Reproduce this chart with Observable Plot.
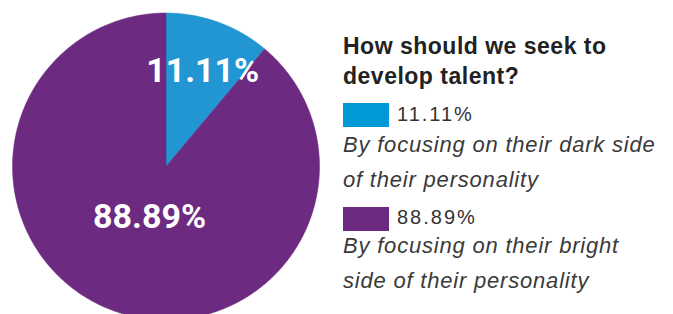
<!DOCTYPE html>
<html>
<head>
<meta charset="utf-8">
<script src="https://cdn.jsdelivr.net/npm/d3@7"></script>
<script src="https://cdn.jsdelivr.net/npm/@observablehq/plot@0.6"></script>
<style>
  html, body { margin: 0; padding: 0; background: #fff; }
  #wrap { position: relative; width: 673px; height: 314px; overflow: hidden; }
  #chart, #legend { position: absolute; left: 0; top: 0; }
</style>
</head>
<body>
<div id="wrap">
  <div id="chart"></div>
  <svg id="legend" width="673" height="314"></svg>
</div>
<script>
const titleLines = ["How should we seek to", "develop talent?"];
const categories = ["By focusing on their dark side of their personality", "By focusing on their bright side of their personality"];
const categoryLines = [["By focusing on their dark side", "of their personality"], ["By focusing on their bright", "side of their personality"]];
const values = [11.11, 88.89];
const valueLabels = ["11.11%", "88.89%"];
const pieColors = ["#2196d3", "#6d2a81"];
const swatchColors = ["#0099d8", "#6d2a81"];
const labelRadius = [0.66, 0.35];

// Build slice polygons from the data (clockwise from 12 o'clock)
const total = d3.sum(values);
const slices = [];
const labels = [];
let acc = 0;
values.forEach((v, i) => {
  const a0 = acc / total * 2 * Math.PI;
  acc += v;
  const a1 = acc / total * 2 * Math.PI;
  const steps = Math.max(2, Math.ceil((a1 - a0) / (Math.PI / 360)));
  slices.push({key: categories[i], x: 0, y: 0});
  for (let s = 0; s <= steps; s++) {
    const a = a0 + (a1 - a0) * s / steps;
    slices.push({key: categories[i], x: Math.sin(a), y: Math.cos(a)});
  }
  slices.push({key: categories[i], x: 0, y: 0});
  const am = (a0 + a1) / 2;
  labels.push({text: valueLabels[i], x: labelRadius[i] * Math.sin(am), y: labelRadius[i] * Math.cos(am)});
});

const plot = Plot.plot({
  width: 673,
  height: 314,
  margin: 0,
  style: {background: "transparent", overflow: "visible"},
  x: {domain: [-1, 1], range: [12, 319], axis: null},
  y: {domain: [-1, 1], range: [319.5, 12.5], axis: null},
  color: {domain: categories, range: pieColors},
  marks: [
    Plot.line(slices, {x: "x", y: "y", z: "key", fill: "key", stroke: "key", strokeWidth: 0.5, curve: "linear"}),
    Plot.text(labels, {x: "x", y: "y", text: "text", fill: "white", fontSize: 34, fontWeight: "bold", fontFamily: "Roboto, sans-serif", dx: 2, dy: 0})
  ]
});
document.getElementById("chart").appendChild(plot);

// Legend (layout)
const lg = d3.select("#legend");
const L = {x: 343, titleY: [54, 84], swTop: [103, 207], swW: 46, swH: 24, numX: 397, numY: [121, 224], descY: [[152, 187], [253, 288]]};
lg.selectAll("text.title").data(titleLines).join("text")
  .attr("x", L.x).attr("y", (d, i) => L.titleY[i])
  .attr("font-family", "'Liberation Sans', Arial, sans-serif").attr("font-weight", "bold")
  .attr("font-size", 23).attr("letter-spacing", 0.5).attr("fill", "#222").text(d => d);
categories.forEach((c, i) => {
  lg.append("rect").attr("x", L.x).attr("y", L.swTop[i]).attr("width", L.swW).attr("height", L.swH).attr("fill", swatchColors[i]);
  lg.append("text").attr("x", L.numX).attr("y", L.numY[i])
    .attr("font-family", "'Liberation Sans', Arial, sans-serif").attr("font-size", 20)
    .attr("letter-spacing", 2).attr("fill", "#333").text(valueLabels[i]);
  categoryLines[i].forEach((line, j) => {
    lg.append("text").attr("x", L.x).attr("y", L.descY[i][j])
      .attr("font-family", "'Liberation Sans', Arial, sans-serif").attr("font-style", "italic")
      .attr("font-size", 22).attr("letter-spacing", 0.8).attr("fill", "#3a3a3a").text(line);
  });
});
</script>
</body>
</html>
